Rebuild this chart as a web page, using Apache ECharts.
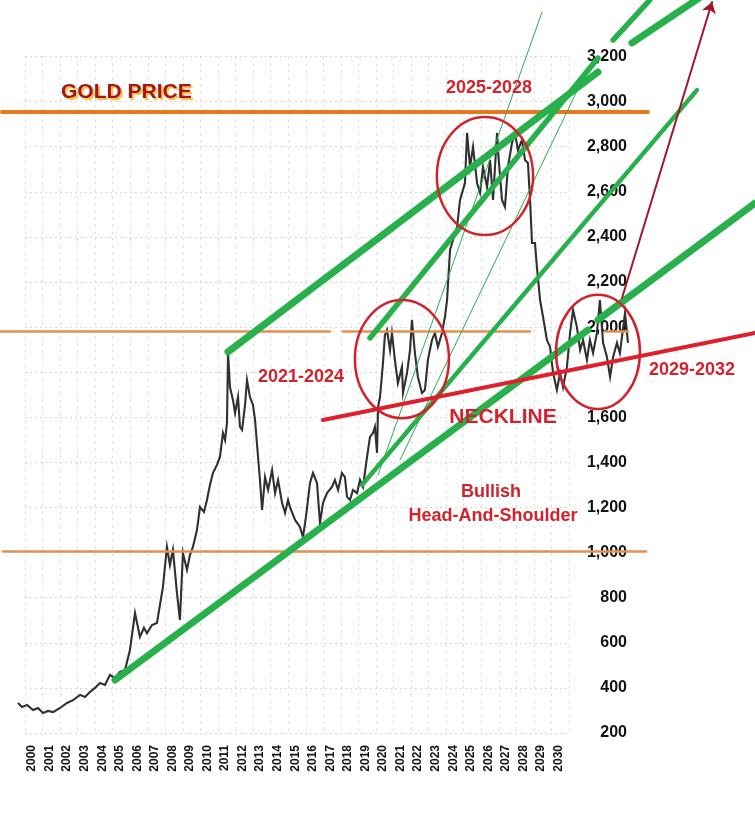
<!DOCTYPE html>
<html><head><meta charset="utf-8">
<script src="https://cdn.jsdelivr.net/npm/echarts@6/dist/echarts.min.js"></script>
<style>html,body{margin:0;padding:0;background:#fff}#c{width:755px;height:817px}</style>
</head><body><div id="c"></div>
<script>
// ---------------- DATA ----------------
const yearTicks = [2000,2001,2002,2003,2004,2005,2006,2007,2008,2009,2010,2011,2012,2013,2014,2015,2016,2017,2018,2019,2020,2021,2022,2023,2024,2025,2026,2027,2028,2029,2030];
const priceTicks = [200,400,600,800,1000,1200,1400,1600,2000,2200,2400,2600,2800,3000,3200];

const priceYears = [1999.20,1999.43,1999.72,2000.06,2000.34,2000.63,2000.91,2001.20,2001.60,2001.99,2002.34,2002.74,2003.02,2003.30,2003.59,2003.87,2004.16,2004.44,2004.73,2005.01,2005.30,2005.58,2005.87,2006.15,2006.38,2006.55,2006.84,2007.12,2007.46,2007.69,2007.86,2008.03,2008.26,2008.43,2008.60,2008.83,2009.00,2009.17,2009.40,2009.57,2009.80,2009.97,2010.14,2010.31,2010.54,2010.71,2010.88,2011.00,2011.11,2011.17,2011.28,2011.45,2011.57,2011.74,2011.85,2011.97,2012.14,2012.25,2012.42,2012.59,2012.71,2012.88,2012.99,2013.11,2013.28,2013.45,2013.68,2013.85,2014.02,2014.25,2014.42,2014.59,2014.70,2014.99,2015.27,2015.44,2015.61,2015.84,2016.01,2016.24,2016.41,2016.58,2016.81,2017.09,2017.26,2017.44,2017.66,2017.83,2017.95,2018.12,2018.29,2018.52,2018.69,2018.86,2019.09,2019.26,2019.43,2019.54,2019.66,2019.72,2019.83,2020.00,2020.11,2020.23,2020.40,2020.51,2020.68,2020.85,2021.08,2021.14,2021.37,2021.54,2021.65,2021.82,2021.99,2022.22,2022.39,2022.56,2022.79,2022.96,2023.13,2023.36,2023.53,2023.65,2023.82,2023.99,2024.22,2024.39,2024.67,2024.79,2024.96,2025.13,2025.36,2025.53,2025.70,2025.93,2026.10,2026.27,2026.50,2026.55,2026.78,2026.95,2027.12,2027.35,2027.52,2027.69,2027.92,2028.09,2028.26,2028.38,2028.49,2028.66,2028.77,2028.95,2029.12,2029.34,2029.52,2029.69,2029.91,2030.09,2030.26,2030.48,2030.66,2030.83,2031.05,2031.23,2031.40,2031.62,2031.79,2031.97,2032.19,2032.36,2032.54,2032.76,2032.94,2033.11,2033.33,2033.50,2033.79,2033.96];
const priceValues = [333,315,324,302,311,289,298,293,311,333,346,369,360,382,400,422,413,457,444,471,479,568,732,626,666,643,679,688,847,1025,945,1012,821,701,998,923,989,1025,1100,1202,1180,1233,1300,1353,1389,1424,1530,1499,1575,1885,1734,1677,1619,1690,1557,1544,1655,1765,1690,1655,1588,1424,1322,1189,1335,1278,1366,1264,1322,1220,1176,1233,1202,1145,1114,1069,1158,1309,1353,1309,1131,1220,1264,1291,1322,1278,1353,1335,1247,1233,1278,1264,1322,1291,1424,1513,1530,1557,1442,1646,1690,1841,1965,1987,1898,1974,1854,1752,1823,1708,1797,1898,2032,1885,1779,1708,1721,1854,1943,1974,1912,1974,2045,2120,2342,2386,2444,2564,2639,2861,2710,2799,2639,2595,2710,2621,2741,2564,2861,2785,2564,2533,2710,2816,2861,2785,2830,2741,2728,2564,2373,2373,2267,2120,2045,1943,1912,1797,1721,1797,1734,1823,1974,2076,2000,1898,1943,1854,1943,1885,1974,2120,1930,1867,1779,1867,1930,1885,2063,1930];

// horizontal levels [start year, end year, price]
const levelTop   = [1998.29, 2035.10, 2954];
const levelMidA  = [1998.18, 2016.98, 1983];
const levelMidB  = [2017.72, 2028.38, 1983];
const levelMidC  = [2032.65, 2033.96, 1983];
const levelLow   = [1998.35, 2034.99, 1007];

// trend lines [[year, price],[year, price]]
const trendLowerA = [[2004.73, 435], [2031.68, 1987]];
const trendLowerB = [[2032.25, 2032], [2041.20, 2550]];
const trendUpperA = [[2011.17, 1890], [2032.25, 3131]];
const trendUpperB = [[2034.19, 3260], [2038.35, 3477]];
const trendSteepA = [[2019.26, 1952], [2032.25, 3193]];
const trendSteepB = [[2033.11, 3273], [2035.21, 3451]];
const trendMid    = [[2018.80, 1300], [2037.89, 3051]];
const fanThinA    = [[2019.72, 1344], [2029.06, 3397]];
const fanThinB    = [[2020.97, 1411], [2031.68, 3149]];
const neckline    = [[2016.58, 1588], [2041.20, 1974]];
const targetArrow = [[2033.62, 2129], [2038.75, 3442]];

// zones: [centre year, centre price, half-width (years), half-height (price)]
const zone2021 = [2021.08, 1858, 2.68, 262];
const zone2025 = [2025.81, 2670, 2.74, 262];
const zone2029 = [2032.25, 1890, 2.39, 253];

// ---------------- CHART ----------------
const FONT = '"Liberation Sans", Arial, sans-serif';
const RED = '#D3222C';
const GREEN = '#27B04B';
const chart = echarts.init(document.getElementById('c'), null, {renderer: 'canvas'});

const lvl = (a) => [[a[0], a[2]], [a[1], a[2]]];
function seg(coords, color, width) {
  return {coords: coords, lineStyle: {color: color, width: width, cap: 'round', opacity: 1, curveness: 0}};
}
const centred = {textAlign: 'center', textVerticalAlign: 'middle', verticalAlign: 'middle'};

const option = {
  animation: false,
  backgroundColor: '#ffffff',
  grid: [
    {left: 0, right: 0, top: 0, bottom: 77, containLabel: false},
    {left: 25, right: 186, top: 56.5, bottom: 84, containLabel: false}
  ],
  xAxis: [
    {
      type: 'value', gridIndex: 0, min: 1998.177, max: 2041.197,
      axisLine: {show: false}, axisTick: {show: false}, splitLine: {show: false},
      axisLabel: {
        customValues: yearTicks, rotate: 90, margin: 5,
        fontSize: 12, fontWeight: 'bold', color: '#111', fontFamily: FONT,
        formatter: (v) => String(Math.round(v))
      }
    },
    {
      type: 'value', gridIndex: 1, min: 0, max: 31, interval: 1,
      axisLine: {show: false}, axisTick: {show: false}, axisLabel: {show: false},
      splitLine: {show: true, lineStyle: {color: '#d2d2d2', width: 1, type: [2, 5]}}
    }
  ],
  yAxis: [
    {
      type: 'value', gridIndex: 0, position: 'right', min: 169, max: 3450.5,
      axisLine: {show: false}, axisTick: {show: false}, splitLine: {show: false},
      axisLabel: {
        customValues: priceTicks, inside: true, margin: 128,
        fontSize: 16, fontWeight: 'bold', color: '#111', fontFamily: FONT,
        formatter: (v) => Math.round(v).toLocaleString('en-US')
      }
    },
    {
      type: 'value', gridIndex: 1, min: 0, max: 15, interval: 1,
      axisLine: {show: false}, axisTick: {show: false}, axisLabel: {show: false},
      splitLine: {show: true, lineStyle: {color: '#d8d8d8', width: 1, type: [2, 3]}}
    }
  ],
  series: [
    {
      name: 'Gold price', type: 'line', xAxisIndex: 0, yAxisIndex: 0,
      data: priceYears.map((t, i) => [t, priceValues[i]]),
      showSymbol: false, symbol: 'none', smooth: false,
      lineStyle: {color: '#303030', width: 2.1, join: 'miter'}, z: 2
    },
    {
      name: 'levels', type: 'lines', coordinateSystem: 'cartesian2d', xAxisIndex: 0, yAxisIndex: 0, z: 3,
      data: [
        seg(lvl(levelTop), '#E8771E', 4),
        seg(lvl(levelMidA), '#E49150', 2.5),
        seg(lvl(levelMidB), '#E49150', 2.5),
        seg(lvl(levelMidC), '#E49150', 2.5),
        seg(lvl(levelLow), '#E49150', 2.5)
      ]
    },
    {
      name: 'trends', type: 'lines', coordinateSystem: 'cartesian2d', xAxisIndex: 0, yAxisIndex: 0, z: 4,
      data: [
        seg(trendLowerA, GREEN, 7),
        seg(trendLowerB, GREEN, 7),
        seg(trendUpperA, GREEN, 7),
        seg(trendUpperB, GREEN, 7),
        seg(trendSteepA, GREEN, 5.5),
        seg(trendSteepB, GREEN, 5.5),
        seg(trendMid, GREEN, 4.5),
        seg(fanThinA, GREEN, 1),
        seg(fanThinB, GREEN, 1)
      ]
    },
    {
      name: 'neckline', type: 'lines', coordinateSystem: 'cartesian2d', xAxisIndex: 0, yAxisIndex: 0, z: 5,
      data: [seg(neckline, '#E01F2D', 4)]
    },
    {
      name: 'target', type: 'lines', coordinateSystem: 'cartesian2d', xAxisIndex: 0, yAxisIndex: 0, z: 5,
      symbol: ['none', 'arrow'], symbolSize: 11,
      data: [seg(targetArrow, '#A3162A', 2)]
    },
    {
      name: 'zones', type: 'custom', xAxisIndex: 0, yAxisIndex: 0, z: 6, clip: false,
      data: [zone2021, zone2025, zone2029],
      encode: {x: 0, y: 1},
      renderItem: function (params, api) {
        const c = api.coord([api.value(0), api.value(1)]);
        const s = api.size([api.value(2), api.value(3)]);
        return {
          type: 'ellipse',
          shape: {cx: c[0], cy: c[1], rx: s[0], ry: s[1]},
          style: {fill: 'none', stroke: RED, lineWidth: 2.5}
        };
      }
    }
  ],
  graphic: [
    {type: 'text', left: 61, top: 82, z: 10, style: {
      text: 'GOLD PRICE', fill: '#A3161C', font: 'bold 21px ' + FONT,
      textShadowColor: '#F6BE3C', textShadowOffsetX: 2, textShadowOffsetY: 2, textShadowBlur: 1,
      shadowColor: '#F6BE3C', shadowOffsetX: 2, shadowOffsetY: 2, shadowBlur: 1}},
    {type: 'text', x: 489, y: 88, z: 10, style: Object.assign({text: '2025-2028', fill: RED, font: 'bold 18px ' + FONT}, centred)},
    {type: 'text', x: 301, y: 377, z: 10, style: Object.assign({text: '2021-2024', fill: RED, font: 'bold 18px ' + FONT}, centred)},
    {type: 'text', x: 503, y: 417, z: 10, style: Object.assign({text: 'NECKLINE', fill: RED, font: 'bold 21px ' + FONT}, centred)},
    {type: 'text', x: 692, y: 370, z: 10, style: Object.assign({text: '2029-2032', fill: RED, font: 'bold 18px ' + FONT}, centred)},
    {type: 'text', x: 491, y: 492, z: 10, style: Object.assign({text: 'Bullish', fill: RED, font: 'bold 18px ' + FONT}, centred)},
    {type: 'text', x: 493, y: 516, z: 10, style: Object.assign({text: 'Head-And-Shoulder', fill: RED, font: 'bold 18px ' + FONT}, centred)}
  ]
};
chart.setOption(option);
</script>
</body></html>
